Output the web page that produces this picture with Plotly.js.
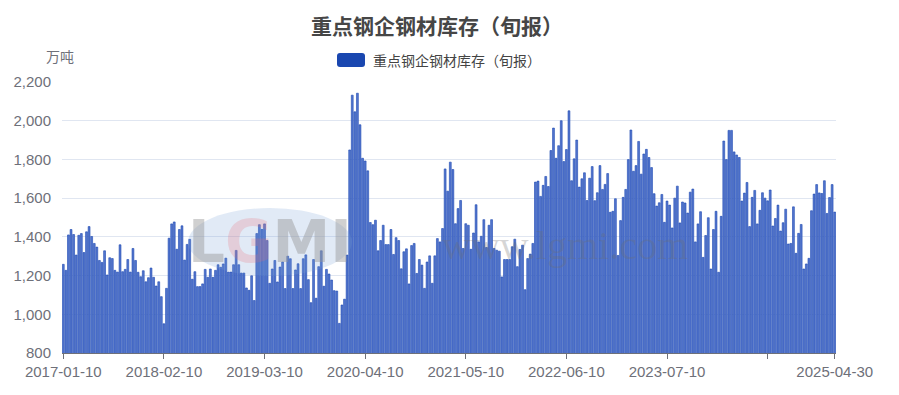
<!DOCTYPE html>
<html>
<head>
<meta charset="utf-8">
<script src="https://cdn.plot.ly/plotly-3.0.1.min.js"></script>
<style>
html,body{margin:0;padding:0;background:#fff;}
#chart{width:899px;height:395px;}
</style>
</head>
<body>
<div id="chart"></div>
<script>
// dekad (旬) dates 2017-01-10 ... 2025-04-30
const years = [2017,2018,2019,2020,2021,2022,2023,2024,2025];
const dates = [];
for (const y of years) {
  for (let m = 1; m <= 12; m++) {
    const last = new Date(y, m, 0).getDate();
    const mm = (m < 10 ? '0' : '') + m;
    [10, 20, last].forEach(d => dates.push(y + '-' + mm + '-' + d));
  }
}
const categories = dates.slice(0, 300);

// 重点钢企钢材库存（旬报），万吨
const stock = [
  1258,1227,1410,1438,1412,1306,1408,1417,1319,1426,1453,1402,1366,1347,1278,1268,1328,1203,1292,1288,1227,1218,1359,1220,1232,1283,1218,1340,1278,1217,1194,1225,1168,1189,1239,1191,1146,1168,1091,
  951,1134,1393,1467,1477,1336,1438,1457,1280,1361,1387,1181,1220,1143,1143,1157,1232,1191,1234,1191,1227,1256,1243,1260,1290,1218,1218,1256,1330,1256,1213,1213,1136,1124,1199,1071,1417,1463,1439,
  1467,1381,1160,1234,1278,1167,1244,1270,1133,1300,1287,1133,1229,1261,1133,1287,1307,1179,1060,1283,1083,1246,1328,1145,1232,1208,1177,1122,1120,953,1048,1078,1306,1849,2132,2046,2142,1979,1806,
  1792,1741,1474,1463,1486,1328,1381,1460,1360,1360,1438,1309,1396,1381,1235,1323,1338,1157,1355,1366,1211,1283,1254,1134,1270,1302,1160,1302,1391,1374,1443,1751,1636,1786,1748,1468,1546,1588,1340,
  1468,1460,1336,1420,1566,1374,1403,1489,1345,1460,1489,1340,1331,1326,1193,1283,1283,1283,1349,1388,1246,1335,1357,1127,1288,1311,1366,1683,1688,1609,1666,1712,1660,1846,1962,1806,1871,2000,1789,
  1851,2051,1690,1803,1900,1657,1700,1731,1588,1703,1763,1587,1628,1768,1645,1671,1727,1527,1532,1597,1304,1484,1604,1645,1799,1952,1739,1768,1893,1724,1828,1852,1810,1758,1623,1559,1576,1619,1475,
  1585,1564,1446,1600,1662,1472,1580,1575,1523,1631,1647,1374,1467,1530,1294,1407,1499,1234,1438,1532,1217,1506,1895,1799,1950,1950,1839,1823,1810,1585,1626,1681,1453,1604,1640,1467,1537,1628,1600,
  1586,1642,1456,1495,1564,1430,1473,1543,1363,1366,1555,1315,1418,1464,1234,1260,1289,1535,1621,1670,1627,1624,1690,1521,1603,1670,1528
];

const tickDates = ['2017-01-10','2018-02-10','2019-03-10','2020-04-10','2021-05-10','2022-06-10','2023-07-10','2024-08-10','2025-04-30'];
const tickLabels = ['2017-01-10','2018-02-10','2019-03-10','2020-04-10','2021-05-10','2022-06-10','2023-07-10','','2025-04-30'];
const yTicks = [800,1000,1200,1400,1600,1800,2000,2200];

const seriesName = '重点钢企钢材库存（旬报）';
const titleText = '重点钢企钢材库存（旬报）';
const unitText = '万吨';

const FONT = 'Noto Sans CJK SC, Noto Sans, sans-serif';
const NUMFONT = 'Liberation Sans, Arial, sans-serif';
const L = 62, R = 836, T = 82, B = 353;
const px = x => (x - L) / (R - L);
const py = y => (B - y) / (B - T);

const trace = {
  type: 'bar',
  x: categories,
  y: stock,
  name: seriesName,
  marker: { color: '#5677cf', line: { color: '#1a47b0', width: 0.6 } },
  hoverinfo: 'x+y'
};

// rounded legend icon
const lx0 = 337, lx1 = 365, ly0 = 53, ly1 = 67, r = 3;
const rr = `M ${px(lx0+r)},${py(ly0)} L ${px(lx1-r)},${py(ly0)} Q ${px(lx1)},${py(ly0)} ${px(lx1)},${py(ly0+r)} L ${px(lx1)},${py(ly1-r)} Q ${px(lx1)},${py(ly1)} ${px(lx1-r)},${py(ly1)} L ${px(lx0+r)},${py(ly1)} Q ${px(lx0)},${py(ly1)} ${px(lx0)},${py(ly1-r)} L ${px(lx0)},${py(ly0+r)} Q ${px(lx0)},${py(ly0)} ${px(lx0+r)},${py(ly0)} Z`;

const layout = {
  width: 899, height: 395,
  margin: { l: L, r: 899 - R, t: T, b: 395 - B, pad: 0 },
  paper_bgcolor: '#fff', plot_bgcolor: '#fff',
  font: { family: FONT, color: '#6e7079', size: 14 },
  separators: '.,',
  showlegend: false,
  bargap: 0.28,
  title: {
    text: '<b>' + titleText + '</b>',
    font: { family: FONT, size: 21, color: '#464646' },
    x: 437 / 899, xanchor: 'center', xref: 'container',
    y: 1 - 27 / 395, yanchor: 'middle', yref: 'container'
  },
  xaxis: {
    type: 'category',
    range: [-0.5, categories.length - 0.5],
    tickmode: 'array', tickvals: tickDates, ticktext: tickLabels,
    tickangle: 0,
    showline: true, linecolor: '#6e7079', linewidth: 1,
    ticks: 'outside', ticklen: 5, tickcolor: '#6e7079',
    showgrid: false, zeroline: false,
    tickfont: { family: NUMFONT, size: 15, color: '#6e7079' }
  },
  yaxis: {
    range: [800, 2200],
    tickmode: 'array', tickvals: yTicks,
    tickformat: ',d',
    showgrid: true, gridcolor: '#e0e6f1', gridwidth: 1,
    zeroline: false, showline: false, ticks: '',
    ticklabelstandoff: 10,
    tickfont: { family: NUMFONT, size: 15, color: '#6e7079' }
  },
  shapes: [
    { type: 'path', xref: 'paper', yref: 'paper', path: rr, fillcolor: '#1a47b0', line: { width: 0 } },
    { type: 'circle', xref: 'paper', yref: 'paper', x0: px(188), x1: px(352), y0: py(276), y1: py(208),
      fillcolor: 'rgba(120,160,215,0.22)', line: { width: 0 }, layer: 'above' }
  ],
  annotations: [
    { text: seriesName, xref: 'paper', yref: 'paper', x: px(371), y: py(60), xanchor: 'left', yanchor: 'middle',
      showarrow: false, font: { family: FONT, size: 14, color: '#444' } },
    { text: unitText, xref: 'paper', yref: 'paper', x: px(60), y: py(56), xanchor: 'center', yanchor: 'middle',
      showarrow: false, font: { family: FONT, size: 14, color: '#6e7079' } },
    { text: '<b>L<span style="color:rgba(235,110,120,0.5)">G</span>MI</b>', xref: 'paper', yref: 'paper',
      x: px(270), y: py(242), xanchor: 'center', yanchor: 'middle', showarrow: false,
      font: { family: 'DejaVu Sans, sans-serif', size: 58, color: 'rgba(150,150,150,0.45)' } },
    { text: 'www.lgmi.com', xref: 'paper', yref: 'paper', x: px(565), y: py(245), xanchor: 'center', yanchor: 'middle',
      showarrow: false, font: { family: 'Liberation Serif, DejaVu Serif, serif', size: 40, color: 'rgba(110,110,110,0.28)' } }
  ]
};

Plotly.newPlot('chart', [trace], layout, { displayModeBar: false, staticPlot: true });
</script>
</body>
</html>
